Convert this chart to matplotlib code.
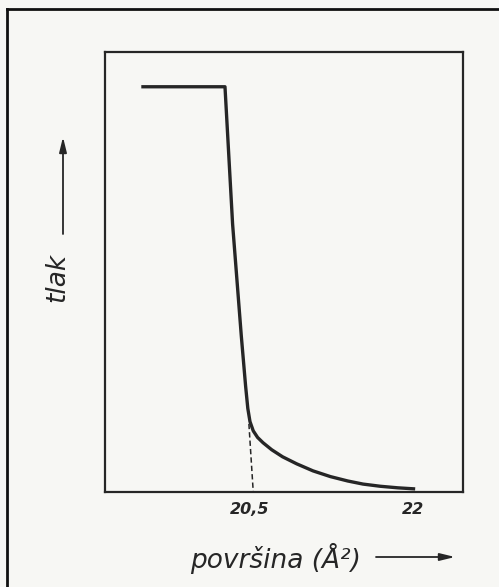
import numpy as np
import matplotlib
matplotlib.use('Agg')
import matplotlib.pyplot as plt
from matplotlib.lines import Line2D

# Isotherm (area in A^2, pressure in arbitrary units)
area = [19.50, 20.27, 20.34, 20.42, 20.46, 20.48, 20.50, 20.53, 20.57,
        20.62, 20.70, 20.80, 20.93, 21.08, 21.24, 21.40, 21.54, 21.70,
        21.86, 22.02]
pressure = [92.1, 92.1, 60.9, 35.5, 24.0, 19.0, 16.0, 13.9, 12.4,
            11.2, 9.6, 8.0, 6.4, 4.8, 3.5, 2.5, 1.8, 1.3,
            0.95, 0.7]
# extrapolation of the steep part down to the axis
extrap_area = [20.49, 20.53]
extrap_pressure = [15.5, 0.0]
tick_values = [20.5, 22]
tick_labels = ['20,5', '22']

W, H = 499, 587
BG = '#f7f7f4'
INK = '#262626'


def fpx(x, y):
    """pixel position (from top left) -> figure fraction"""
    return x / W, 1 - y / H


fig = plt.figure(figsize=(W / 100, H / 100), dpi=100, facecolor=BG)
ax = fig.add_axes([105 / W, 1 - 492 / H, (463 - 105) / W, (492 - 52) / H])
ax.set_facecolor(BG)

ax.plot(area, pressure, color=INK, lw=2.4, solid_joinstyle='round',
        solid_capstyle='butt')
ax.plot(extrap_area, extrap_pressure, color=INK, lw=1.1, ls=(0, (3.5, 2)))

ax.set_xlim(19.166, 22.46)
ax.set_ylim(0, 100)
ax.set_xticks(tick_values)
ax.set_xticklabels(tick_labels, fontsize=11.5, style='italic',
                   fontweight='bold', color=INK)
ax.set_yticks([])
ax.tick_params(axis='x', length=0, pad=7)
for sp in ax.spines.values():
    sp.set_linewidth(1.6)
    sp.set_color(INK)

# axis titles with arrows, as in the textbook figure
fig.text(*fpx(276, 558), 'površina (Å²)', ha='center', va='center',
         fontsize=19, style='italic', color=INK)
ax.annotate('', xy=fpx(455, 557), xytext=fpx(376, 557),
            xycoords='figure fraction', textcoords='figure fraction',
            arrowprops=dict(arrowstyle='-|>,head_length=0.9,head_width=0.22',
                            color=INK, lw=1.3, shrinkA=0, shrinkB=0))
fig.text(*fpx(57, 277), 'tlak', ha='center', va='center', rotation=90,
         fontsize=19, style='italic', color=INK)
ax.annotate('', xy=fpx(63, 137), xytext=fpx(63, 234),
            xycoords='figure fraction', textcoords='figure fraction',
            arrowprops=dict(arrowstyle='-|>,head_length=0.9,head_width=0.22',
                            color=INK, lw=1.3, shrinkA=0, shrinkB=0))

# frame of the scanned page (left and top edges only)
fig.add_artist(Line2D([7 / W, 7 / W], [0, 1 - 9 / H], transform=fig.transFigure,
                      color='#111111', lw=2))
fig.add_artist(Line2D([7 / W, 1], [1 - 9 / H, 1 - 9 / H],
                      transform=fig.transFigure, color='#111111', lw=2))

fig.savefig('out.png', dpi=100, facecolor=BG)
